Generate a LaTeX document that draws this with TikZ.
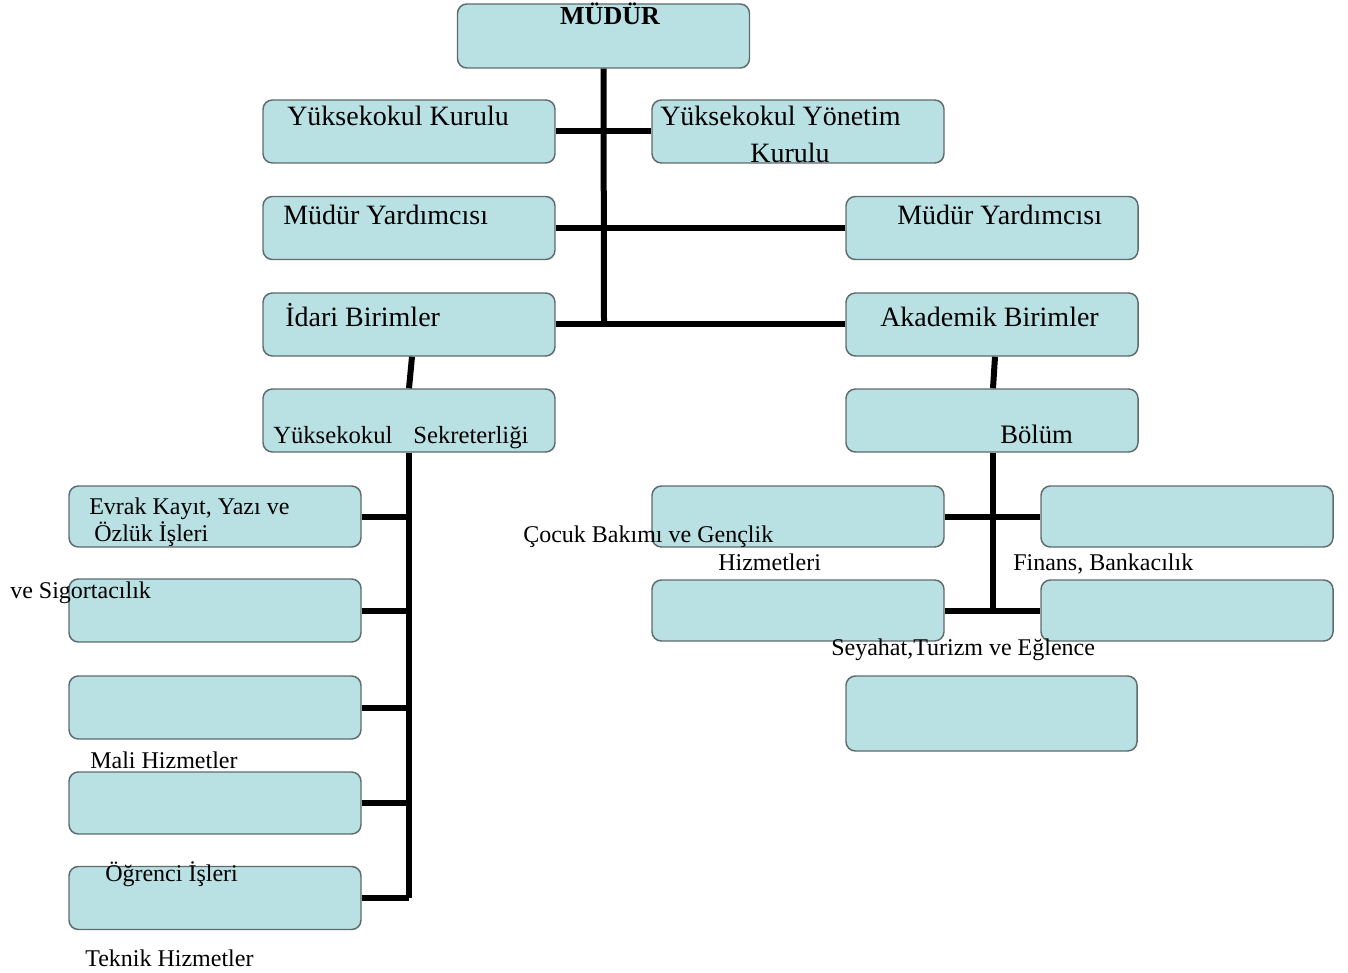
\documentclass[tikz,border=0pt]{standalone}
\usepackage{fontspec}
\setmainfont{Liberation Serif}
\definecolor{boxfill}{HTML}{B9E0E3}
\definecolor{boxline}{HTML}{5F6B6C}
\begin{document}
\begin{tikzpicture}[x=0.75pt,y=-0.75pt,
  box/.style={rectangle,rounded corners=7pt,draw=boxline,line width=1.1pt,fill=boxfill,
    minimum width=219pt,minimum height=47.25pt,inner sep=0pt},
  conn/.style={line width=4.5pt,black},
  big/.style={inner sep=0pt,font=\fontsize{21}{23}\selectfont},
  mid/.style={inner sep=0pt,font=\fontsize{18.5}{21}\selectfont},
  low/.style={inner sep=0pt,font=\fontsize{18}{20}\selectfont}]
\useasboundingbox[fill=white] (0,0) rectangle (1348,973);
% boxes
\node[box,minimum height=48pt] (mudur) at (603.5,36) {};
\node[box] (yk) at (409,131.5) {};
\node[box] (yyk) at (798,131.5) {};
\node[box] (my1) at (409,228) {};
\node[box] (my2) at (992,228) {};
\node[box] (idari) at (409,324.5) {};
\node[box] (akad) at (992,324.5) {};
\node[box] (sek) at (409,420.5) {};
\node[box] (bolum) at (992,420.5) {};
\node[box,minimum height=45.75pt] (ev) at (215,516.5) {};
\node[box] (l2) at (215,610.5) {};
\node[box] (l3) at (215,707.5) {};
\node[box,minimum height=46.5pt] (l4) at (215,803) {};
\node[box] (l5) at (215,898) {};
\node[box,minimum height=45.75pt] (c1) at (798,516.5) {};
\node[box,minimum height=45.75pt] (f1) at (1187,516.5) {};
\node[box,minimum height=45.75pt] (c2) at (798,610.5) {};
\node[box,minimum height=45.75pt] (f2) at (1187,610.5) {};
\node[box,minimum width=218.25pt,minimum height=56.25pt] (s1) at (991.5,713.5) {};
% connectors
\coordinate (jmain) at (604,323);
\draw[conn] (mudur.south) -- (jmain);
\draw[conn] (yk.east) -- (yyk.west);
\draw[conn] (my1.east) -- (my2.west);
\draw[conn] (idari.east) -- (akad.west);
\draw[conn] ([xshift=2.25pt]idari.south) -- (sek.north);
\draw[conn] ([xshift=2.25pt]akad.south) -- ([xshift=0.75pt]bolum.north);
\coordinate (lend) at (409,898);
\draw[conn] (sek.south) -- (lend);
\draw[conn] (ev.east) -- (ev.east -| sek.south);
\draw[conn] (l2.east) -- (l2.east -| sek.south);
\draw[conn] (l3.east) -- (l3.east -| sek.south);
\draw[conn] (l4.east) -- (l4.east -| sek.south);
\draw[conn] (l5.east) -- (lend);
\coordinate (rend) at (993,611);
\draw[conn] ([xshift=0.75pt]bolum.south) -- (rend);
\draw[conn] (c1.east) -- (f1.west);
\draw[conn] (c2.east) -- (f2.west);
% texts
\node[inner sep=0pt,anchor=base,font=\fontsize{19.5}{21}\selectfont\bfseries] (t0) at (610,25) {MÜDÜR};
\node[big,anchor=base west] (t1) at (287,126) {Yüksekokul Kurulu};
\node[big,anchor=base west] (t2) at (660,126) {Yüksekokul Yönetim};
\node[big,anchor=base] (t3) at (790,163) {Kurulu};
\node[big,anchor=base west] (t4) at (283,225) {Müdür Yardımcısı};
\node[big,anchor=base west] (t5) at (897,225) {Müdür Yardımcısı};
\node[big,anchor=base west] (t6) at (285,327) {İdari Birimler};
\node[big,anchor=base west] (t7) at (880,327) {Akademik Birimler};
\node[mid,anchor=base west] (t8) at (273,443) {Yüksekokul\hspace{0.6em} Sekreterliği};
\node[mid,anchor=base west,font=\fontsize{20}{22}\selectfont] (t9) at (1000,443) {Bölüm};
\node[low,anchor=base west] (t10) at (89,514) {Evrak Kayıt, Yazı ve};
\node[low,anchor=base west] (t11) at (94,541) {Özlük İşleri};
\node[low,anchor=base west] (t12) at (523,542) {Çocuk Bakımı ve Gençlik};
\node[low,anchor=base west] (t13) at (718,570) {Hizmetleri};
\node[low,anchor=base west] (t14) at (1013,570) {Finans, Bankacılık};
\node[low,anchor=base west] (t15) at (10,598) {ve Sigortacılık};
\node[low,anchor=base west] (t16) at (831,655) {Seyahat,Turizm ve Eğlence};
\node[low,anchor=base west] (t17) at (90,768) {Mali Hizmetler};
\node[low,anchor=base west] (t18) at (105,881) {Öğrenci İşleri};
\node[low,anchor=base west] (t19) at (85,966) {Teknik Hizmetler};
\end{tikzpicture}
\end{document}
